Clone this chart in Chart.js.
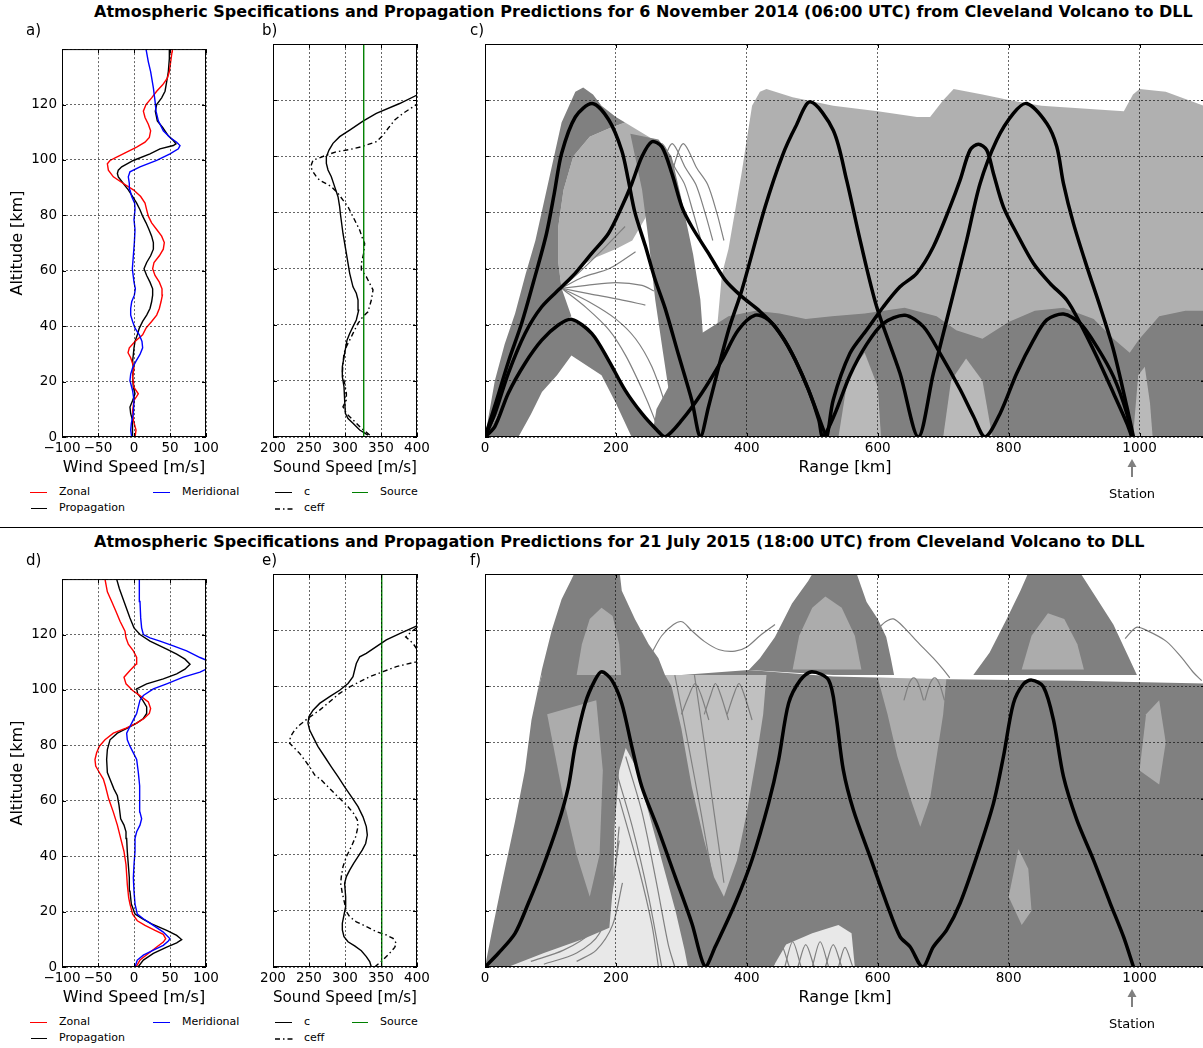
<!DOCTYPE html>
<html>
<head>
<meta charset="utf-8">
<script src="https://cdn.jsdelivr.net/npm/chart.js@4.4.0/dist/chart.umd.min.js"></script>
<style>
  html, body { margin: 0; padding: 0; background: #fff; overflow: hidden; }
  #wrap { position: relative; width: 1203px; height: 1048px; overflow: hidden;
          font-family: 'DejaVu Sans', sans-serif; color: #000; }
  .title { position: absolute; left: 94px; font-weight: bold; font-size: 16px; line-height: 18px; white-space: nowrap; }
  .plabel { position: absolute; font-size: 15px; line-height: 16px; }
  .leg { position: absolute; font-size: 11px; line-height: 14px; white-space: nowrap; }
  .sw { position: absolute; height: 0; border-top: 1.5px solid #000; }
  .rule { position: absolute; left: 0; width: 1203px; height: 0; border-top: 1.5px solid #000; }
  .station { position: absolute; font-size: 13px; line-height: 15px; width: 80px; text-align: center; }
  canvas { position: absolute; }
</style>
</head>
<body>
<div id="wrap"></div>
<script>
// ─── profiles: [altitude km, value m/s] ──────────────────────────────────
const zonalNov = [[0,1.4],[2.5,2.8],[6.1,-0.9],[9.6,-1.9],[13.2,0],[15.6,6],[17.9,0],[21.5,-1.9],[25,0],[28.6,-4.6],[30.4,-8.3],[32.2,-6.5],[34.5,1.4],[36.9,12],[39.3,16.7],[41.7,24.5],[44,31.5],[46.4,35.2],[48.8,37.5],[51.2,39.4],[53.5,38.9],[55.9,35.2],[58.3,29.2],[60.7,25.9],[63,27.8],[65.4,35.2],[67.8,40.7],[70.2,42.1],[72.5,38.4],[74.9,31.5],[77.3,24.5],[79.7,19.9],[82,17.6],[84.4,15.3],[86.8,9.3],[89.2,-0.9],[91.5,-14.8],[93.9,-28.7],[96.3,-35.6],[98.6,-37],[99.8,-33.3],[101,-24.1],[102.8,-10.2],[104.6,3.7],[106.4,15.3],[108.1,21.3],[110.5,23.1],[112.9,19.9],[115.3,15.3],[117.6,13],[120,16.7],[122.4,24.5],[124.8,31.5],[127.1,39.8],[129.5,46.3],[131.9,49.1],[135.4,50.9],[139,52.8],[140,53.2]];
const meridNov = [[0,-3.2],[2.5,-4.6],[4.9,-3.7],[8.4,-0.9],[13.2,0],[16.7,-1.9],[20.3,-5.6],[22.7,-4.6],[25,-1.9],[27.4,2.8],[29.8,8.3],[32.2,12],[34.5,11.1],[36.9,7.4],[39.3,1.4],[41.7,-1.9],[44,-4.6],[46.4,-4.6],[48.8,-3.2],[51.2,0.5],[53.5,1.9],[55.9,0],[60.7,-2.3],[65.4,-0.9],[70.2,0.5],[74.9,1.4],[78.5,0],[82,1.4],[84.4,0.9],[86.8,-3.2],[89.2,-5.6],[91.5,-6.5],[93.9,-7.9],[95.7,-5.6],[97.5,8.3],[99.8,31.5],[102.2,50],[104,61.6],[105.2,63.9],[106.4,59.3],[108.1,50],[110.5,40.7],[114.1,33.8],[117.6,30.6],[121.2,29.2],[126,26.9],[131.9,23.1],[135.4,19.9],[140,16.7]];
const propNov = [[0,-2.3],[2.5,-2.3],[6.1,-1.9],[8.4,-4.6],[10.8,-5.6],[13.2,-1.9],[15.6,1.4],[17.9,-0.9],[21.5,-1.9],[25,-0.9],[27.4,-1.9],[29.8,-0.9],[32.2,0],[34.5,1.4],[36.9,4.6],[39.3,7.4],[41.7,12],[44,17.6],[46.4,22.2],[48.8,24.5],[51.2,25.9],[53.5,25.9],[55.9,22.2],[58.3,17.6],[60.7,13.9],[63,17.6],[65.4,23.1],[67.8,26.9],[70.2,26.9],[72.5,24.5],[74.9,20.8],[77.3,16.7],[79.7,12],[82,8.3],[84.4,3.7],[86.8,-1.9],[89.2,-7.9],[91.5,-14.8],[93.9,-21.8],[95.1,-23.1],[96.3,-21.8],[97.5,-17.1],[99.8,-0.9],[102.2,22.2],[104,36.1],[105.2,54.6],[105.8,58.3],[107,54.6],[108.7,47.7],[111.7,39.8],[114.1,32.4],[117.6,29.6],[120,31.5],[122.4,38.4],[124.8,43.1],[128.3,45.4],[131.9,47.7],[136.6,49.1],[140,49.1]];
const soundNov = [[0.7,331.9],[2.5,320.4],[4.9,311.1],[6.6,304.2],[8.4,300.5],[13.2,299.5],[17.9,298.6],[21.5,296.3],[25,296.3],[29.8,299.5],[34.5,302.8],[36.9,306.5],[39.3,311.1],[41.7,315.7],[45.2,319],[48.8,318.1],[51.2,315.7],[53.5,311.1],[58.3,306.5],[65.4,301.9],[72.5,297.2],[79.7,293.5],[82,292.6],[85.6,290.3],[89.2,285.6],[92.7,281],[95.1,276.4],[97.5,274.1],[99.8,274.1],[102.2,277.8],[104.6,283.3],[107,292.6],[109.3,306.5],[112.5,325],[115.3,343.5],[118.8,375.9],[121.8,400]];
const ceffNov = [[0.7,334.3],[3.1,322.7],[6.1,311.1],[8.4,301.9],[10.8,297.2],[13.2,301.9],[15.6,301.9],[19.1,299.5],[22.7,296.3],[26.2,297.2],[29.8,298.6],[32.2,301.9],[34.5,306.5],[36.9,311.1],[40.5,318.1],[42.9,325],[44.6,331.9],[48.8,336.6],[52.4,338.9],[54.7,334.3],[57.1,329.6],[59.5,322.7],[61.8,322.7],[65.4,325.9],[69,327.3],[70.2,325],[73.7,320.4],[77.3,313.4],[82,304.2],[84.4,297.2],[86.8,290.3],[89.2,281],[91.5,264.8],[92.7,260.2],[94.5,255.6],[96.3,252.3],[98.6,255.6],[100.4,274.1],[101.6,288],[102.4,306.5],[103.4,322.7],[105.2,343.5],[107.5,352.8],[109.9,359.7],[112.9,369],[115.3,380.6],[117.6,394.4],[118.6,400]];
const sourceSpeedNov = 326;

const zonalJul = [[0,2.8],[2.5,8.3],[4.9,19.9],[7.2,31.5],[9,40.7],[10.2,44],[11.8,40.7],[13.2,29.2],[15,15.3],[16.7,4.6],[19.1,-1.9],[22.7,-5.6],[25,-7.4],[29.8,-9.3],[36.9,-11.1],[41.7,-13.9],[46.4,-18.5],[51.2,-23.1],[55.9,-28.7],[60.7,-35.2],[65.4,-39.8],[67.8,-42.6],[70.2,-48.1],[72.5,-53.2],[74.9,-54.2],[77.3,-51.9],[79.7,-48.1],[82,-40.3],[84.4,-28.7],[86.2,-11.1],[88,3.7],[89.7,13.9],[91.5,21.3],[93.3,23.1],[95.7,19.9],[97.5,10.6],[99.8,-1.9],[102.2,-11.1],[104.6,-13.9],[107,-5.6],[109.3,2.8],[111.7,3.7],[114.1,-0.9],[116.5,-7.9],[118.8,-11.1],[121.2,-12.5],[124.8,-19.4],[128.3,-25],[131.9,-31],[135.4,-37],[140,-40.3]];
const meridJul = [[0,1.4],[2.5,4.6],[4.3,13],[6.1,26.9],[7.8,40.7],[9.4,47.7],[10.2,50],[12.6,40.7],[15,26.9],[17.4,13],[19.1,4.6],[22.7,1.4],[27.4,0],[32.2,-0.9],[36.9,0],[41.7,1.4],[46.4,1.4],[48.8,3.7],[51.2,8.3],[53.5,10.6],[55.9,8.3],[60.7,7.4],[65.4,8.3],[70.2,6],[74.9,3.7],[77.3,-0.9],[79.7,-5.6],[82,-9.3],[84.4,-10.2],[86.8,-5.6],[89.2,-0.9],[91.5,3.7],[93.9,6],[96.3,8.3],[98,13],[100.4,26.9],[102.2,45.4],[104.6,68.5],[106.4,91.7],[108,104],[110,106],[110.8,100],[111.7,91.7],[114.1,73.1],[115.9,54.6],[117.6,36.1],[118.8,22.2],[120,13],[122.4,10.6],[126,9.3],[131.9,8.3],[136.6,7.4],[140,7.4]];
const propJul = [[0,5.6],[2.5,13],[4.9,26.9],[7.2,45.4],[8.7,59.3],[9.9,66.2],[11.4,59.3],[13.2,45.4],[15.6,24.5],[17.4,12],[19.1,1.4],[22.7,-3.7],[27.4,-5.6],[32.2,-6.5],[36.9,-7.9],[41.7,-9.3],[46.4,-10.2],[48.8,-11.1],[51.2,-13.9],[53.5,-18.5],[58.3,-20.8],[61.8,-23.1],[64.2,-27.8],[67.8,-33.3],[70.2,-37],[74.9,-38],[78.5,-37],[82,-33.3],[84.4,-23.1],[86.2,-9.3],[88,3.7],[89.7,13],[91.5,17.6],[93.9,17.6],[96.3,12],[98.6,5.1],[100.4,3.7],[102.2,17.6],[104,40.7],[105.8,59.3],[107.5,70.8],[109.3,77.8],[111.1,70.8],[112.9,59.3],[114.7,45.4],[117.6,22.2],[120,8.3],[122.4,0],[126,-5.6],[131.9,-13.9],[136.6,-20.4],[140,-24.1]];
const soundJul = [[0,336.6],[1.9,334.3],[3.7,329.6],[5.8,322.7],[7.5,313.4],[9,304.2],[10.8,298.6],[13.2,296.3],[15.6,296.3],[17.9,298.1],[21.5,300.9],[25,300.9],[29.8,299.5],[32.2,301.9],[34.5,306.5],[36.9,312],[39.3,318.1],[41.7,324.1],[44,328.7],[47,331],[50,329.6],[53.5,325],[57.1,318.1],[60.7,308.8],[64.2,299.5],[67.8,290.3],[71.3,281],[74.9,271.8],[78.5,262.5],[82,255.6],[84.4,250.9],[86.8,248.6],[89.2,250],[91.5,255.6],[93.9,264.8],[96.3,278.7],[98.6,292.6],[101,304.2],[103.4,311.1],[105.8,313.4],[108.1,315.7],[110.5,320.4],[111.7,329.6],[114.1,343.5],[116.5,357.4],[118.8,375.9],[121.4,399.1]];
const ceffJul = [[0,341.2],[2.5,352.8],[4.9,362],[7,369],[8.4,371.3],[10.2,366.7],[11.4,357.4],[12.6,343.5],[14.4,329.6],[16.1,315.7],[17.9,306.5],[19.7,301.9],[22.7,299.5],[26.2,296.3],[29.8,294],[32.2,294.9],[35.7,297.2],[39.3,301.9],[42.9,308.8],[46.4,314.8],[50,318.1],[52.4,317.1],[54.7,312],[57.1,304.2],[59.5,294.9],[61.8,285.6],[64.2,276.4],[66.6,267.1],[68.4,257.9],[71.3,250.9],[73.7,244],[76.1,237],[77.9,230.1],[79.7,223.1],[82,224.1],[84.4,230.1],[86.2,237],[88.6,248.6],[91.5,264.8],[94.5,278.7],[97.5,292.6],[99.8,306.5],[101.6,320.4],[103.4,334.3],[105.2,352.8],[107,371.3],[108.7,399],[111.7,404],[115.3,394.4],[117.6,384.3],[119.4,392.1],[121.2,401.4]];
const sourceSpeedJul = 351;

// ─── eigenrays: [range km, altitude km] ──────────────────────────────────
const eigenNovHigh = [[0,0],[15,11],[36,27],[56,40.5],[75,56],[94,72.5],[106,87],[117,101],[138,114],[164,118.8],[189,113],[209,102],[219,91.5],[229,80],[245,68],[260,56],[275,46],[296,29],[316,13],[329,0],[341.5,10.8],[372,38],[392.5,52.4],[428,82],[454,100],[474.5,110.5],[497,119.4],[532,109.3],[552.5,91.5],[573,70.2],[598.4,46.4],[634,22.7],[662,0],[685,22.7],[710.5,46.4],[736,70.2],[756.4,90.3],[781.8,105.8],[807.3,115.3],[827.7,118.8],[858.3,111.7],[873.6,103.4],[883.8,90.3],[899,76.1],[919.5,60.7],[939.8,46.4],[960.2,31],[980.6,10.8],[990.8,0]];
const eigenNovLow = [[0,0],[15,3.7],[35.6,15.6],[61,26.2],[86.7,34.5],[112,39.9],[132.5,41.9],[163,36.9],[188.6,27.4],[214,16.7],[239.6,8.4],[262.5,2.5],[275,0],[301,6.1],[331,15.6],[362,27.4],[387,38.1],[413,43.4],[433,41.7],[454,35.7],[474,27.4],[494.4,16.7],[510,6.1],[516,0],[534,8],[557.6,22],[583,33],[608.6,40.5],[641.7,43.4],[669.7,39.3],[695.2,29.8],[725.8,17],[746.2,7.4],[764,0],[787,8.4],[812.4,22.7],[837.9,34.5],[858.3,41.7],[883.8,43.8],[909.3,40.5],[934.7,32.2],[960.2,21.5],[980.6,8.4],[988.3,0]];
const eigenNovMid = [[0,0],[15.3,8.4],[35.6,22.7],[61.2,36.9],[86.7,46.4],[117.3,53.5],[137.6,58.3],[163,65.4],[188.6,72.5],[209,82],[224.3,90.3],[239.6,99.8],[254.9,105.2],[270.2,103.4],[285.5,93.9],[300.8,82],[316,74.9],[341.5,65.4],[367,55.9],[392.5,50],[418,45.2],[443.4,39.3],[469,29.8],[494.4,16.7],[514.8,4],[522,0],[532,13.2],[557.6,29.8],[583,38.1],[608.6,46.4],[634,53.5],[659.6,58.3],[685,67.8],[710.5,82],[725.8,91.5],[741,102.2],[753.8,104.3],[766.6,102.2],[776.8,93.9],[792,82],[812.4,72.5],[838,61.8],[863.4,54.7],[888.8,48.8],[909.3,40.5],[934.7,28.6],[960.2,15.6],[980.6,4.9],[988.3,0]];
const eigenJul = [[0,0],[20.4,4.9],[45.9,12],[66.2,22.7],[86.7,34.5],[112,51.2],[127.4,64.2],[137.6,78.5],[153,93.9],[168,102.2],[178.4,105.2],[193.7,102.2],[209,93.9],[224.3,78.5],[239.6,64.2],[265,48.8],[290.5,32.2],[316,15.6],[336.4,0],[351.7,7.2],[382.3,22.7],[407.8,38.1],[433.2,58.3],[448.5,73.7],[463.8,93.9],[481.7,102.2],[499.5,105.2],[525,102.2],[536,90],[547.4,70.2],[562.7,56],[588.2,39.3],[613.6,22.7],[634,10.8],[649.4,7.2],[668.7,0],[685,7.2],[705.4,13.2],[725.8,22.7],[751.2,39.3],[776.8,58.3],[792,74.9],[807.3,93.9],[822.6,100.8],[835.3,102.2],[853.2,99.8],[868.5,88],[883.8,67.8],[904.2,52.4],[929.7,38.1],[955.2,22.7],[975.5,10.8],[990.8,0]];

// ─── gray ray bundles, outlines [range km, altitude km] ─
// 6 Nov 2014
const novRim      = [[0,0],[15,20],[30,33],[46,44],[62,58],[77,70],[97,91],[117,112],[138,123],[150,124.5],[165,122],[178,118],[200,114],[214,112],[190,110],[160,107],[135,100],[120,88],[112,75],[112,62],[117,53],[132,43],[100,38],[60,25],[20,8]];
const novFanInner = [[112,62],[112,75],[120,88],[135,100],[160,107],[190,110],[214,112],[250,107],[272,103],[262,92],[245,78],[225,70],[200,67],[170,64],[140,60],[117,53]];
const novArch1    = [[0,0],[20,8],[35.6,15.6],[61,26.2],[86.7,34.5],[112,39.9],[132.5,42.5],[163,37.5],[188.6,28],[214,17],[239.6,8.5],[262.5,2.5],[275,0],[224,0],[200,12],[178,22],[132,29],[110,22],[87,16],[70,8],[51,0]];
const novFall1    = [[222,108],[240,88],[250,70],[260,49],[272,30],[283,13],[292,0],[350,0],[344,13],[335,30],[329,49],[318,65],[300,85],[285,100],[265,106]];
const novDuct     = [[255,0],[262,10],[290,22],[331,37],[372,43],[413,45],[450,44],[490,42],[530,43],[580,44],[641,46],[690,43],[720,38],[760,35],[800,41],[840,45],[884,46],[930,42],[960,35],[985,30],[1000,35],[1030,43],[1070,45],[1150,45],[1150,0]];
const novLattice  = [[330,0],[345,20],[355,40],[362,58],[372,67],[392,94],[408,118],[420,123],[430,124],[470,121],[532,118],[600,116],[660,114],[680,114],[700,120],[716,124],[760,122],[802,120],[850,118],[976,116],[990,122],[1000,124],[1040,123],[1098,118],[1150,117],[1150,0]];
const novGaps     = [[[700,0],[712,20],[735,28],[760,20],[775,0]],[[990,0],[998,22],[1008,25],[1016,12],[1020,0]],[[540,0],[555,22],[580,30],[600,18],[605,0]]];
const novThin     = [
  [[117,53],[150,60],[185,68],[214,75]],
  [[117,53],[150,57],[190,60],[230,66]],
  [[117,53],[155,54],[200,55],[240,54],[258,52]],
  [[117,53],[160,51],[205,49],[245,47]],
  [[117,53],[160,48],[200,42],[230,35],[255,25],[275,12],[290,0]],
  [[117,53],[155,46],[190,38],[215,29],[240,17],[258,7],[268,0]],
  [[255,96],[263,102],[270,104.5],[278,102],[290,96],[305,90],[318,80],[330,70]],
  [[271,96],[279,102],[286,104.5],[294,102],[306,96],[322,90],[336,80],[348,70]],
  [[288,96],[296,102],[303,104.5],[311,102],[323,96],[340,90],[354,80],[365,70]]
];
// 21 Jul 2015
const julMass   = [[0,0],[10,12],[25,29],[46,52],[61,70],[71,88],[80,98],[87,104],[240,104],[300,104],[403,105.8],[532,103.5],[710,102.5],[900,102],[1100,101],[1150,101],[1150,0]];
const julPlumes = [
  [[80,98],[87,106],[102,120],[117,131],[132,138],[140,142],[205,142],[209,134],[229,124],[250,115],[265,110],[275,104],[87,104]],
  [[403,105.8],[420,110],[443,117.6],[469,129.5],[494,137.6],[505,142],[565,142],[583,130],[600,124],[613,117.6],[620,110],[625,104],[532,104]],
  [[746,104],[771,112],[797,124],[818,134],[833,142],[905,142],[930,133],[960,122],[980,112],[996,104]]
];
const julGapsLight = [
  [[35,0],[90,5],[150,10],[190,14],[196,30],[198,50],[205,70],[215,78],[229,72],[250,55],[270,38],[291,20],[305,6],[310,0]],
  [[440,0],[460,8],[500,12],[540,15],[560,12],[565,0]]
];
const julGapsMid = [
  [[275,104],[285,100],[300,85],[316,64],[335,45],[350,32],[365,25],[385,38],[400,55],[415,75],[425,90],[430,104]]
];
const julGapsFaint = [
  [[600,103],[615,90],[630,75],[650,60],[665,50],[680,60],[690,75],[700,90],[705,103]],
  [[800,25],[815,42],[830,35],[835,20],[820,15]],
  [[95,90],[120,60],[140,40],[160,25],[175,40],[180,70],[170,95]],
  [[140,104],[148,115],[160,124],[178,128],[195,125],[205,115],[208,104]],
  [[470,106],[480,118],[500,128],[520,132],[545,128],[565,118],[575,106]],
  [[820,106],[835,118],[860,126],[885,124],[905,115],[915,106]],
  [[1000,70],[1010,90],[1030,95],[1040,80],[1030,65]]
];
const julThin = [
  [[255,112],[270,118],[288,122],[301,123],[315,120],[335,116],[358,113],[382,112.5],[400,114],[420,118],[443,122]],
  [[598,120],[612,123],[624,124],[640,121],[660,116],[685,110],[700,106],[710,103]],
  [[978,117],[995,121],[1010,120],[1041,116],[1065,110],[1082,105],[1095,102]],
  [[300,90],[312,97],[321,101],[330,97],[342,88]],
  [[335,90],[345,97],[352,101],[360,97],[372,88]],
  [[370,90],[380,97],[388,101],[396,97],[408,88]],
  [[640,95],[648,101],[655,103],[662,101],[670,95]],
  [[672,95],[680,101],[687,103],[694,101],[702,95]],
  [[70,2],[120,6],[160,12],[190,25],[205,45]],
  [[90,1],[140,5],[175,12],[195,28],[205,50]],
  [[140,2],[170,6],[195,15],[210,30]],
  [[200,70],[225,50],[250,25],[270,0]],
  [[205,60],[235,35],[255,15],[265,0]],
  [[215,75],[240,55],[262,30],[280,8],[290,0]],
  [[290,104],[310,80],[330,55],[345,35]],
  [[320,104],[335,80],[350,55],[365,30]],
  [[440,0],[452,8],[465,0]],[[458,0],[470,9],[483,0]],[[478,0],[490,8],[503,0]],
  [[500,0],[512,9],[525,0]],[[520,0],[532,8],[545,0]],[[540,0],[550,7],[562,0]]
];

// axis ranges / ticks
const altRange = [0, 140], altStep = 20;
const windRange = [-100, 100], windStep = 50;
const soundRange = [200, 400], soundStep = 50;
const rangeRange = [0, 1100], rangeStep = 200;

// ─── styling ─────────────────────────────────────────────────────────────
Chart.defaults.font.family = "'DejaVu Sans', sans-serif";
Chart.defaults.color = '#000';

const GRAY = '#808080';
const TEXTURE = 'rgba(128,128,128,0.62)';
const GRID = { color: 'rgba(0,0,0,0.75)', lineWidth: 0.8, drawTicks: false, z: 1 };
const AXIS_BORDER = { display: false, dash: [2, 2] };

// box round the plot area with short inward ticks (matplotlib classic look)
const frame = {
  id: 'frame',
  afterDraw(chart) {
    const { ctx, chartArea: a, scales } = chart;
    ctx.save();
    ctx.strokeStyle = '#000';
    ctx.lineWidth = 1;
    ctx.beginPath();
    scales.x.ticks.forEach(t => {
      const px = Math.round(scales.x.getPixelForValue(t.value)) + 0.5;
      ctx.moveTo(px, a.bottom); ctx.lineTo(px, a.bottom - 4);
      ctx.moveTo(px, a.top); ctx.lineTo(px, a.top + 4);
    });
    scales.y.ticks.forEach(t => {
      const py = Math.round(scales.y.getPixelForValue(t.value)) + 0.5;
      ctx.moveTo(a.left, py); ctx.lineTo(a.left + 4, py);
      ctx.moveTo(a.right, py); ctx.lineTo(a.right - 4, py);
    });
    ctx.stroke();
    ctx.strokeRect(a.left + 0.5, a.top + 0.5, a.right - a.left - 1, a.bottom - a.top - 1);
    ctx.restore();
  },
};

const xy = (list) => list.map(p => ({ x: p[0], y: p[1] }));
const prof = (list) => list.map(p => ({ x: p[1], y: p[0] }));
const minus = (v) => (v < 0 ? '\u2212' + (-v) : String(v));

function lineSet(data, color, width, order, extra) {
  return Object.assign({ data, borderColor: color, borderWidth: width, pointRadius: 0, pointHoverRadius: 0,
    showLine: true, fill: false, order }, extra || {});
}
function areaSet(outline, color, order) {
  return { data: xy(outline), showLine: true, borderWidth: 0, borderColor: 'rgba(0,0,0,0)',
    backgroundColor: color, fill: 'shape', pointRadius: 0, pointHoverRadius: 0, order, clip: 0 };
}

function makeChart(left, top, width, height, o) {
  const c = document.createElement('canvas');
  c.width = width; c.height = height;
  c.style.left = left + 'px'; c.style.top = top + 'px';
  document.getElementById('wrap').appendChild(c);
  return new Chart(c, {
    type: 'scatter',
    data: { datasets: o.datasets },
    options: {
      responsive: false,
      animation: false,
      devicePixelRatio: 1,
      events: [],
      layout: { padding: { top: 8, right: 20, left: 0, bottom: 0 } },
      plugins: { legend: { display: false }, tooltip: { enabled: false } },
      scales: {
        x: {
          type: 'linear', min: o.xRange[0], max: o.xRange[1],
          afterFit: s => { s.height = 45; },
          grid: GRID, border: AXIS_BORDER,
          ticks: { stepSize: o.xStep, includeBounds: false, autoSkip: false, maxRotation: 0, padding: 3,
                   font: { size: 13.5 }, callback: minus },
          title: { display: true, text: o.xTitle, font: { size: 16 }, padding: { top: 0, bottom: 5 } },
        },
        y: {
          type: 'linear', min: altRange[0], max: altRange[1],
          afterFit: s => { s.width = o.yWidth; },
          grid: GRID, border: AXIS_BORDER,
          ticks: { display: o.yLabels, stepSize: altStep, padding: 5, font: { size: 13.5 },
                   callback: v => (v >= altRange[1] ? '' : String(v)) },
          title: { display: o.yLabels, text: 'Altitude [km]', font: { size: 16 }, padding: { top: 8, bottom: 0 } },
        },
      },
    },
    plugins: [frame],
  });
}

function windPanel(dy, zonal, merid, prop) {
  makeChart(0, 36 + dy, 226, 446, {
    xRange: windRange, xStep: windStep, xTitle: 'Wind Speed [m/s]', yWidth: 62, yLabels: true,
    datasets: [
      lineSet(prof(zonal), '#ff0000', 1.4, 2),
      lineSet(prof(merid), '#0000ff', 1.4, 1),
      lineSet(prof(prop), '#000000', 1.4, 3),
    ],
  });
}

function soundPanel(dy, sound, ceff, source) {
  makeChart(253, 36 + dy, 184, 446, {
    xRange: soundRange, xStep: soundStep, xTitle: 'Sound Speed [m/s]', yWidth: 20, yLabels: false,
    datasets: [
      lineSet(prof(sound), '#000000', 1.4, 2),
      lineSet(prof(ceff), '#000000', 1.4, 3, { borderDash: [5, 3, 1.5, 3] }),
      lineSet(prof([[altRange[0], source], [altRange[1], source]]), '#008000', 1.4, 1),
    ],
  });
}

function rayPanel(dy, datasets) {
  makeChart(465, 36 + dy, 760, 446, {
    xRange: rangeRange, xStep: rangeStep, xTitle: 'Range [km]', yWidth: 20, yLabels: false, datasets,
  });
}

// ─── row 1: 6 November 2014 ──────────────────────────────────────────────
windPanel(0, zonalNov, meridNov, propNov);
soundPanel(0, soundNov, ceffNov, sourceSpeedNov);
rayPanel(0, [
  areaSet(novLattice, TEXTURE, 6),
  areaSet(novFanInner, TEXTURE, 6),
  areaSet(novRim, GRAY, 5),
  areaSet(novArch1, GRAY, 5),
  areaSet(novFall1, GRAY, 5),
  areaSet(novDuct, GRAY, 5),
  ...novGaps.map(g => areaSet(g, 'rgba(255,255,255,0.45)', 4)),
  ...novThin.map(t => lineSet(xy(t), GRAY, 1.2, 3, { tension: 0.3 })),
  lineSet(xy(eigenNovHigh), '#000', 3.5, 1, { tension: 0.3 }),
  lineSet(xy(eigenNovMid), '#000', 3.5, 1, { tension: 0.3 }),
  lineSet(xy(eigenNovLow), '#000', 3.5, 1, { tension: 0.3 }),
]);

// ─── row 2: 21 July 2015 ─────────────────────────────────────────────────
const ROW2 = 530;
windPanel(ROW2, zonalJul, meridJul, propJul);
soundPanel(ROW2, soundJul, ceffJul, sourceSpeedJul);
rayPanel(ROW2, [
  areaSet(julMass, GRAY, 7),
  ...julPlumes.map(p => areaSet(p, GRAY, 6)),
  ...julGapsFaint.map(g => areaSet(g, 'rgba(255,255,255,0.35)', 5)),
  ...julGapsMid.map(g => areaSet(g, 'rgba(255,255,255,0.5)', 5)),
  ...julGapsLight.map(g => areaSet(g, 'rgba(255,255,255,0.82)', 4)),
  ...julThin.map(t => lineSet(xy(t), GRAY, 1.2, 3, { tension: 0.3 })),
  lineSet(xy(eigenJul), '#000', 3.5, 1, { tension: 0.3 }),
]);

// ─── text, legends, station marker ───────────────────────────────────────
const wrap = document.getElementById('wrap');
function add(cls, html, css) {
  const d = document.createElement('div');
  d.className = cls; d.innerHTML = html;
  Object.assign(d.style, css);
  wrap.appendChild(d);
  return d;
}

function decorate(dy, title, labels) {
  add('title', title, { top: (2.5 + dy) + 'px' });
  [26, 262, 470].forEach((x, i) => add('plabel', labels[i], { left: x + 'px', top: (22 + dy) + 'px' }));

  const sw = (x, y, w, color) => add('sw', '', { left: x + 'px', top: (y + dy) + 'px', width: w + 'px', borderTopColor: color });
  const tx = (x, y, t) => add('leg', t, { left: x + 'px', top: (y - 7 + dy) + 'px' });
  sw(30, 492, 17, '#ff0000'); tx(59, 492, 'Zonal');
  sw(153, 492, 17, '#0000ff'); tx(182, 492, 'Meridional');
  sw(31, 508, 16, '#000'); tx(59, 508, 'Propagation');
  sw(275, 492, 17, '#000'); tx(304, 492, 'c');
  sw(352, 492, 16, '#008000'); tx(380, 492, 'Source');
  add('leg', '<svg width="18" height="4"><line x1="0" y1="2" x2="18" y2="2" stroke="#000" stroke-width="1.4" stroke-dasharray="5,3,1.5,3"/></svg>',
      { left: '275px', top: (506 + dy) + 'px', lineHeight: '4px' });
  tx(304, 508, 'ceff');

  add('leg', '<svg width="16" height="20"><line x1="8" y1="6" x2="8" y2="19" stroke="#808080" stroke-width="2"/><polygon points="3.5,9 8,1 12.5,9" fill="#808080"/></svg>',
      { left: '1124px', top: (458 + dy) + 'px', lineHeight: '20px' });
  add('station', 'Station', { left: '1092px', top: (485.5 + dy) + 'px' });
}

decorate(0, 'Atmospheric Specifications and Propagation Predictions for 6 November 2014 (06:00 UTC) from Cleveland Volcano to DLL', ['a)', 'b)', 'c)']);
decorate(ROW2, 'Atmospheric Specifications and Propagation Predictions for 21 July 2015 (18:00 UTC) from Cleveland Volcano to DLL', ['d)', 'e)', 'f)']);
add('rule', '', { top: '526.5px' });
</script>
</body>
</html>
